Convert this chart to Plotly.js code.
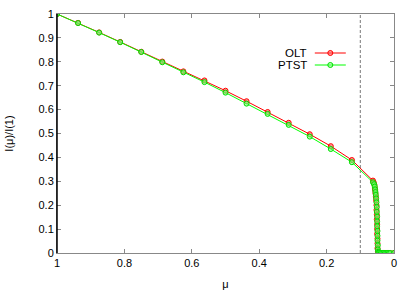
<!DOCTYPE html>
<html>
<head>
<meta charset="utf-8">
<script src="https://cdn.plot.ly/plotly-3.0.1.min.js"></script>
<style>html,body{margin:0;padding:0;background:#fff;}#chart{width:415px;height:291px;}</style>
</head>
<body>
<div id="chart"></div>
<script>
// Data
var oltX = [1, 0.9375, 0.875, 0.8125, 0.75, 0.6875, 0.625, 0.5625, 0.5, 0.4375, 0.375, 0.3125, 0.25, 0.1875, 0.125, 0.0625,
  0.060, 0.058, 0.057, 0.056, 0.055, 0.054, 0.053, 0.052, 0.052, 0.051, 0.051, 0.050, 0.050, 0.050, 0.049, 0.049, 0.049, 0.048,
  0.046, 0.043, 0.040, 0.036, 0.032, 0.028, 0.024, 0.020, 0.016, 0.012, 0];
var oltY = [1, 0.963, 0.923, 0.883, 0.842, 0.801, 0.760, 0.722, 0.679, 0.635, 0.590, 0.545, 0.497, 0.447, 0.389, 0.303,
  0.295, 0.285, 0.272, 0.262, 0.250, 0.235, 0.220, 0.200, 0.180, 0.160, 0.140, 0.120, 0.100, 0.080, 0.060, 0.040, 0.020, 0.008,
  0.003, 0.001, 0, 0, 0, 0, 0, 0, 0, 0, 0];
var ptstX = [1, 0.9375, 0.875, 0.8125, 0.75, 0.6875, 0.625, 0.5625, 0.5, 0.4375, 0.375, 0.3125, 0.25, 0.1875, 0.125, 0.0625,
  0.059, 0.057, 0.056, 0.055, 0.054, 0.053, 0.052, 0.051, 0.051, 0.050, 0.050, 0.050, 0.049, 0.049, 0.049, 0.048, 0.048, 0.047,
  0.045, 0.042, 0.039, 0.035, 0.031, 0.027, 0.023, 0.019, 0.015, 0.011, 0];
var ptstY = [1, 0.962, 0.922, 0.882, 0.841, 0.798, 0.756, 0.715, 0.671, 0.625, 0.582, 0.536, 0.487, 0.435, 0.380, 0.296,
  0.288, 0.278, 0.266, 0.255, 0.243, 0.228, 0.212, 0.192, 0.172, 0.152, 0.132, 0.112, 0.092, 0.072, 0.052, 0.032, 0.015, 0.005,
  0.002, 0.001, 0, 0, 0, 0, 0, 0, 0, 0, 0];
var cutoffX = [0.1, 0.1];
var cutoffY = [0, 1];
var xTicks = [1, 0.8, 0.6, 0.4, 0.2, 0];
var xTickText = ['1', '0.8', '0.6', '0.4', '0.2', '0'];
var yTicks = [0, 0.1, 0.2, 0.3, 0.4, 0.5, 0.6, 0.7, 0.8, 0.9, 1];
var yTickText = ['0', '0.1', '0.2', '0.3', '0.4', '0.5', '0.6', '0.7', '0.8', '0.9', '1'];
var seriesNames = ['OLT', 'PTST'];

var font = {family: 'Liberation Sans, Arial, sans-serif', size: 11, color: '#000'};
var traces = [
  {x: cutoffX, y: cutoffY, mode: 'lines', line: {color: '#555', width: 0.8, dash: '3px,2px'}, showlegend: false, hoverinfo: 'skip'},
  {x: oltX, y: oltY, name: seriesNames[0], mode: 'lines+markers', line: {color: '#ff0000', width: 1},
   marker: {symbol: 'circle', size: 5, color: 'rgba(255,90,90,0.6)', line: {color: '#ff0000', width: 1}}, showlegend: false},
  {x: ptstX, y: ptstY, name: seriesNames[1], mode: 'lines+markers', line: {color: '#00ff00', width: 1},
   marker: {symbol: 'circle', size: 5, color: 'rgba(120,255,120,0.6)', line: {color: '#00e000', width: 1}}, showlegend: false}
];

var layout = {
  width: 415, height: 291,
  margin: {l: 57, r: 21, t: 14, b: 38},
  paper_bgcolor: '#fff', plot_bgcolor: '#fff',
  font: font,
  showlegend: false,
  xaxis: {range: [1, 0], tickvals: xTicks, ticktext: xTickText, ticks: 'inside', ticklen: 4, tickcolor: '#888',
    showline: true, linecolor: '#888', linewidth: 1, mirror: 'ticks', showgrid: false, zeroline: false,
    tickfont: font, title: {text: 'μ', font: font, standoff: 12}},
  yaxis: {range: [0, 1], tickvals: yTicks, ticktext: yTickText, ticks: 'inside', ticklen: 4, tickcolor: '#888',
    showline: true, linecolor: '#888', linewidth: 1, mirror: 'ticks', showgrid: false, zeroline: false,
    tickfont: font, title: {text: 'I(μ)/I(1)', font: font, standoff: 22}},
  shapes: [
    {type: 'line', xref: 'paper', yref: 'paper', x0: 0, x1: 0, y0: 0, y1: 1, line: {color: '#000', width: 1.5}},
    {type: 'line', xref: 'paper', yref: 'paper', x0: 0.765, x1: 0.857, y0: 0.8368, y1: 0.8368, line: {color: '#ff0000', width: 1}},
    {type: 'circle', xref: 'paper', yref: 'paper', x0: 0.8036, x1: 0.8184, y0: 0.8263, y1: 0.8473, line: {color: '#ff0000', width: 1}, fillcolor: 'rgba(255,90,90,0.6)'},
    {type: 'line', xref: 'paper', yref: 'paper', x0: 0.765, x1: 0.857, y0: 0.7866, y1: 0.7866, line: {color: '#00ff00', width: 1}},
    {type: 'circle', xref: 'paper', yref: 'paper', x0: 0.8036, x1: 0.8184, y0: 0.7761, y1: 0.7971, line: {color: '#00e000', width: 1}, fillcolor: 'rgba(120,255,120,0.6)'}
  ],
  annotations: [
    {xref: 'paper', yref: 'paper', x: 0.745, y: 0.8368, xanchor: 'right', yanchor: 'middle', text: seriesNames[0], showarrow: false, borderpad: 0, font: {family: font.family, size: 11.5, color: '#000'}},
    {xref: 'paper', yref: 'paper', x: 0.745, y: 0.7866, xanchor: 'right', yanchor: 'middle', text: seriesNames[1], showarrow: false, borderpad: 0, font: {family: font.family, size: 11.5, color: '#000'}}
  ]
};
Plotly.newPlot('chart', traces, layout, {displayModeBar: false, staticPlot: true});
</script>
</body>
</html>
